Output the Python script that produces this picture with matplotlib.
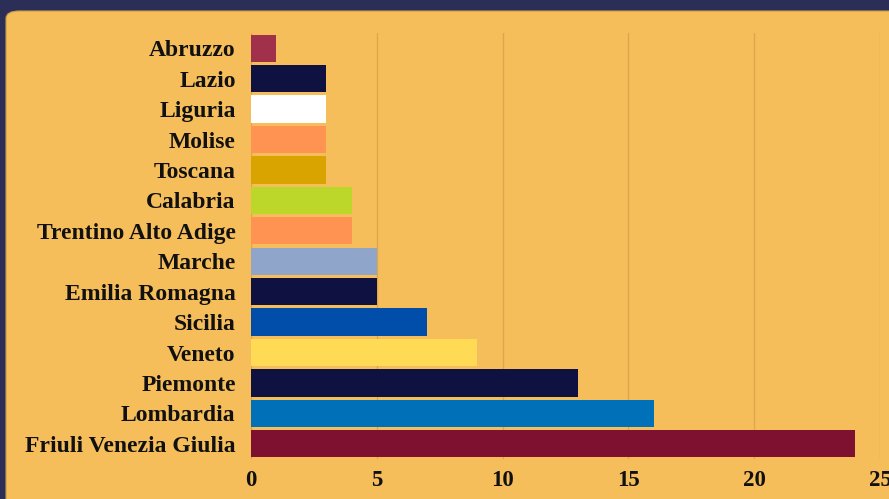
import matplotlib
matplotlib.use("Agg")
from matplotlib import pyplot as plt
from matplotlib.patches import FancyBboxPatch

regions = ["Abruzzo", "Lazio", "Liguria", "Molise", "Toscana", "Calabria",
           "Trentino Alto Adige", "Marche", "Emilia Romagna", "Sicilia",
           "Veneto", "Piemonte", "Lombardia", "Friuli Venezia Giulia"]
counts = [1, 3, 3, 3, 3, 4, 4, 5, 5, 7, 9, 13, 16, 24]
colors = ["#A1304A", "#0F1140", "#FFFFFF", "#FF9352", "#D9A300", "#BDD62A",
          "#FF9352", "#90A5CA", "#0F1140", "#004DAA", "#FFDA55", "#0F1140",
          "#0070B8", "#7E1030"]
xticks = [0, 5, 10, 15, 20, 25]

BG = "#2B2F58"
PANEL = "#F6BE5B"

fig = plt.figure(figsize=(8.89, 4.99), dpi=100)
fig.patch.set_facecolor(BG)

# rounded panel behind the chart
panel = FancyBboxPatch((6 / 889, -0.05), 1.2, 1 - 11 / 499 + 0.05,
                       boxstyle="round,pad=0,rounding_size=0.015",
                       transform=fig.transFigure, facecolor=PANEL,
                       edgecolor="#C99A48", linewidth=0.8, zorder=-1)
fig.add_artist(panel)

ax = fig.add_axes([251 / 889, 1 - 459 / 499, 629 / 889, 426 / 499])
ax.set_facecolor("none")

ypos = list(range(len(regions)))
ax.barh(ypos, counts, height=0.9, color=colors, zorder=2)

ax.set_xlim(0, 25)
ax.set_ylim(len(regions) - 0.5, -0.5)
ax.set_xticks(xticks)
ax.set_yticks(ypos)
ax.set_yticklabels(regions)

ax.grid(axis="x", color="#DDA64A", linewidth=1.0, zorder=1)
ax.set_axisbelow(True)
for s in ax.spines.values():
    s.set_visible(False)
ax.tick_params(length=0)
ax.tick_params(axis="y", pad=11)
ax.tick_params(axis="x", pad=8)

for lbl in ax.get_yticklabels():
    lbl.set_fontfamily("Liberation Serif")
    lbl.set_fontweight("bold")
    lbl.set_fontsize(17)
    lbl.set_color("#111111")
    lbl.set_va("center_baseline")
for lbl in ax.get_xticklabels():
    lbl.set_fontfamily("Liberation Serif")
    lbl.set_fontweight("bold")
    lbl.set_fontsize(16.5)
    lbl.set_color("#111111")

fig.savefig("out.png", dpi=100, facecolor=BG)
